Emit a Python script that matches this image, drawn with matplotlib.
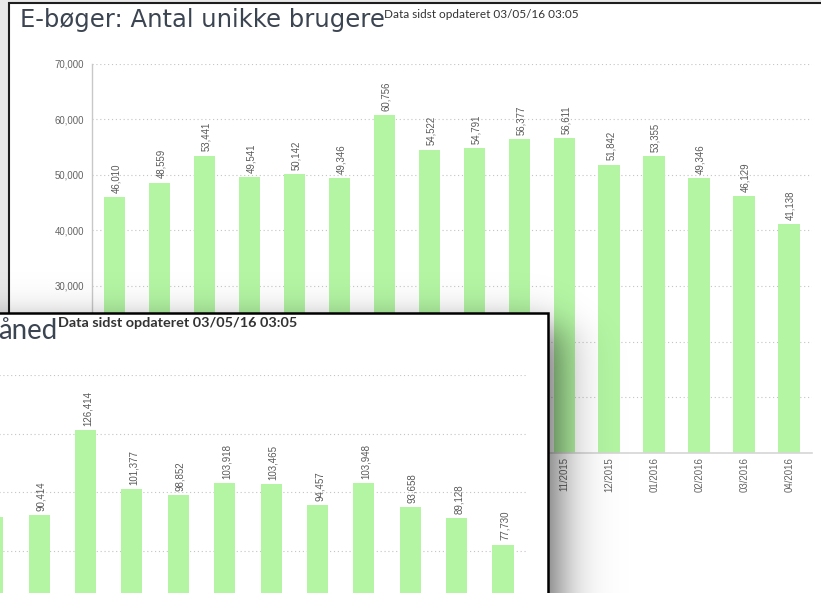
import numpy as np
import matplotlib
matplotlib.use('Agg')
import matplotlib.pyplot as plt
from matplotlib.patches import Rectangle

W, H = 821, 593
DPI = 100

# ---------------- data ----------------
back_months = ['01/2015', '02/2015', '03/2015', '04/2015', '05/2015', '06/2015',
               '07/2015', '08/2015', '09/2015', '10/2015', '11/2015', '12/2015',
               '01/2016', '02/2016', '03/2016', '04/2016']
back_values = [46010, 48559, 53441, 49541, 50142, 49346, 60756, 54522,
               54791, 56377, 56611, 51842, 53355, 49346, 46129, 41138]
back_yticks = [0, 10000, 20000, 30000, 40000, 50000, 60000, 70000]

front_months = ['05/2015', '06/2015', '07/2015', '08/2015', '09/2015', '10/2015',
                '11/2015', '12/2015', '01/2016', '02/2016', '03/2016', '04/2016']
front_values = [89490, 90414, 126414, 101377, 98852, 103918, 103465, 94457,
                103948, 93658, 89128, 77730]
front_yticks = [0, 25000, 50000, 75000, 100000, 125000, 150000]

back_title = 'E-bøger: Antal unikke brugere'
front_title = 'åned'
updated_text = 'Data sidst opdateret 03/05/16 03:05'

BAR = '#b3f5a3'
TITLE_C = '#3b4451'
LABEL_C = '#595959'
TICK_C = '#636363'
GRID_C = '#c4c4c4'

plt.rcParams['font.family'] = ['Liberation Sans', 'DejaVu Sans']
TITLE_FONT = ['Lato', 'DejaVu Sans']

fig = plt.figure(figsize=(W / DPI, H / DPI), dpi=DPI, facecolor='#e8e8e8')


def frac(x0, y0, x1, y1):
    return [x0 / W, 1 - y1 / H, (x1 - x0) / W, (y1 - y0) / H]


def fit_width(texts_targets):
    for _ in range(2):
        fig.canvas.draw()
        r = fig.canvas.get_renderer()
        for t, target in texts_targets:
            w = t.get_window_extent(r).width
            if w > 0:
                t.set_fontsize(t.get_fontsize() * target / w)


# ---------------- background panel ----------------
bg = fig.add_axes([0, 0, 1, 1], zorder=0)
bg.set_xlim(0, W)
bg.set_ylim(H, 0)
bg.axis('off')
bg.add_patch(Rectangle((9, 2.5), 900, 700, facecolor='white',
                       edgecolor='#1e1e1e', lw=1.5))
t_back_title = bg.text(20, 27.3, back_title, fontsize=16.5, color=TITLE_C,
                       family=['DejaVu Sans'], va='baseline', ha='left')
t_back_upd = bg.text(384, 18.3, updated_text, fontsize=8.6, color='#333333',
                     family=TITLE_FONT, va='baseline', ha='left')

# ---------------- back chart ----------------
ax = fig.add_axes(frac(92, 63.7, 811.7, 452.7), zorder=1)
ax.set_facecolor('none')
x = np.arange(len(back_months))
ax.bar(x, back_values, width=0.48, color=BAR, zorder=2)
ax.set_xlim(-0.5, len(back_months) - 0.5)
ax.set_ylim(0, 70000)
ax.set_yticks(back_yticks)
ax.set_yticklabels([f'{v:,}' for v in back_yticks])
ax.set_xticks(x)
ax.set_xticklabels(back_months, rotation=90, va='top', ha='center')
ax.tick_params(axis='both', length=0, labelsize=6.9, colors=TICK_C)
ax.tick_params(axis='y', pad=5.8)
ax.tick_params(axis='x', pad=3.0)
ax.yaxis.grid(True, color=GRID_C, linestyle=(0, (1, 2.5)), lw=0.8)
ax.set_axisbelow(True)
for s in ['top', 'right']:
    ax.spines[s].set_visible(False)
ax.spines['left'].set_color('#c8c8c8')
ax.spines['bottom'].set_color('#d6d6d6')
ax.spines['left'].set_linewidth(1.0)
ax.spines['bottom'].set_linewidth(1.2)
for xi, v in zip(x, back_values):
    ax.annotate(f'{v:,}', (xi, v), xytext=(1, 3.2), textcoords='offset points',
                rotation=90, ha='center', va='bottom', fontsize=6.9,
                color=LABEL_C)

# ---------------- shadow + front panel ----------------
ov = fig.add_axes([0, 0, 1, 1], zorder=2)
ov.set_xlim(0, W)
ov.set_ylim(H, 0)
ov.axis('off')
ov.set_facecolor('none')
yy, xx = np.mgrid[0:H, 0:W] + 0.5


def logistic(t):
    return 1.0 / (1.0 + np.exp(-t))


alpha = 0.66 * logistic((557 - xx) / 14.0) * logistic((yy - 328) / 11.0)
rgba = np.zeros((H, W, 4))
rgba[..., 3] = alpha
ov.imshow(rgba, extent=(0, W, H, 0), interpolation='bilinear', zorder=1,
          aspect='auto')
ov.add_patch(Rectangle((-30, 313), 548.3 + 30, 400, facecolor='white',
                       edgecolor='black', lw=1.8, zorder=2))
ov.text(57, 339.3, front_title, fontsize=19.9, color=TITLE_C,
        family=TITLE_FONT, va='baseline', ha='right', zorder=3)
t_front_upd = ov.text(58.3, 327, updated_text, fontsize=9.4, color='#333333',
                      family=TITLE_FONT, fontweight='bold', va='baseline',
                      ha='left', zorder=3)

# ---------------- front chart ----------------
fx = fig.add_axes(frac(-216, 375, 526.2, 727), zorder=3)
fx.set_facecolor('none')
xf = np.arange(len(front_months))
fx.bar(xf, front_values, width=0.455, color=BAR, zorder=2)
fx.set_xlim(-4.5, len(front_months) - 0.5)
fx.set_ylim(0, 150000)
fx.set_yticks(front_yticks)
fx.set_yticklabels([])
fx.set_xticks([])
fx.tick_params(length=0)
fx.yaxis.grid(True, color=GRID_C, linestyle=(0, (1, 2.5)), lw=0.8)
fx.set_axisbelow(True)
for s in fx.spines.values():
    s.set_visible(False)
for xi, v in zip(xf, front_values):
    fx.annotate(f'{v:,}', (xi, v), xytext=(1.5, 3.0), textcoords='offset points',
                rotation=90, ha='center', va='bottom', fontsize=7.0,
                color=LABEL_C)

fit_width([(t_back_title, 363), (t_back_upd, 194), (t_front_upd, 240)])

fig.savefig('out.png', dpi=DPI, facecolor=fig.get_facecolor())
